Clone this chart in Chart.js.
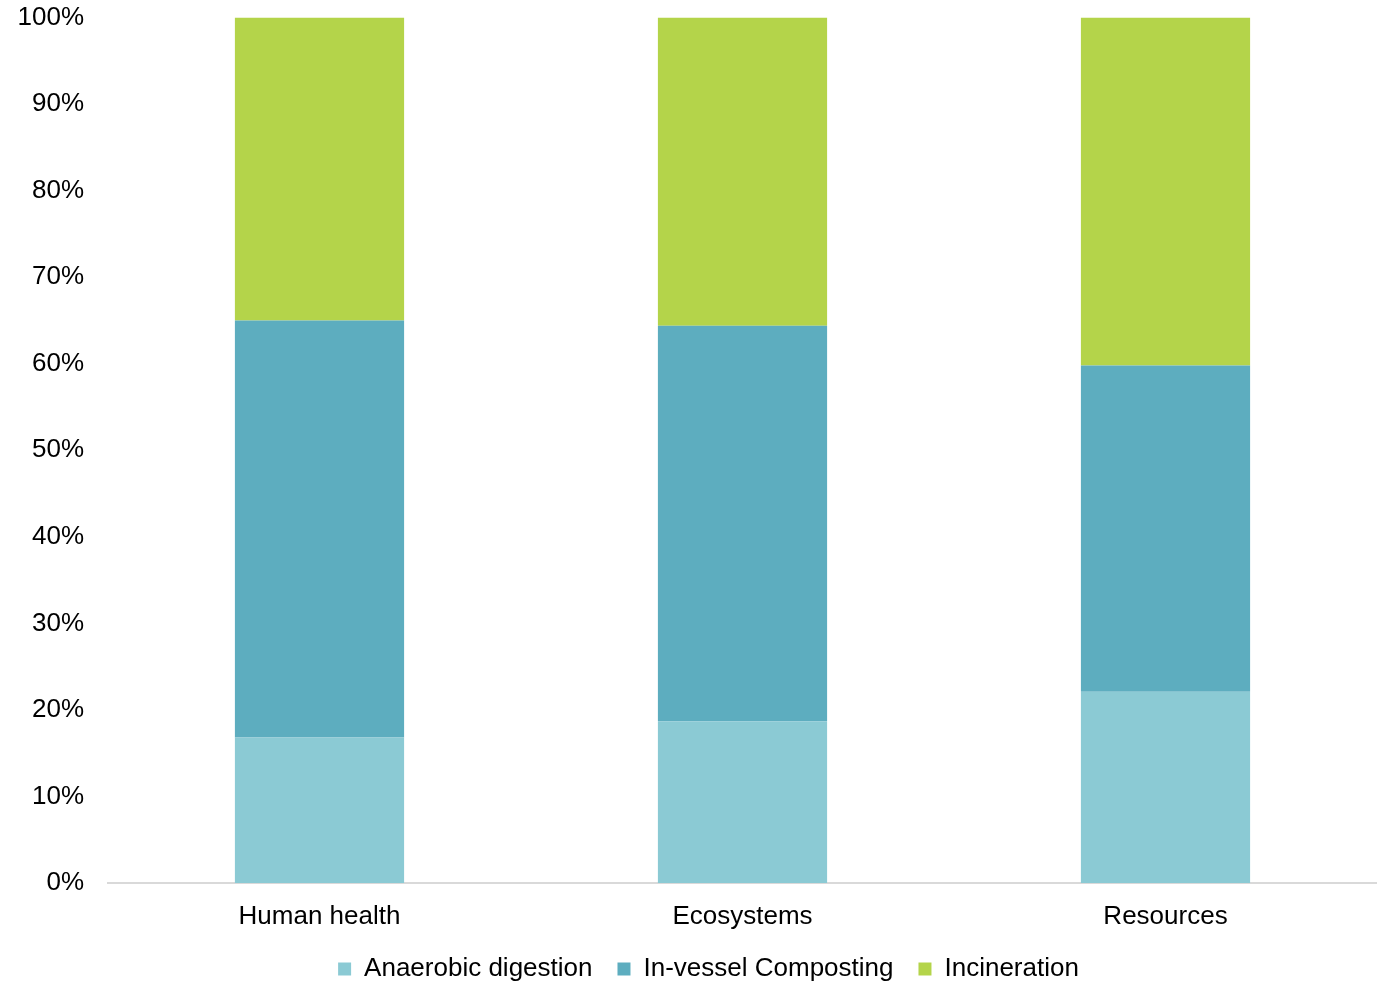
<!DOCTYPE html>
<html>
<head>
<meta charset="utf-8">
<script src="https://cdn.jsdelivr.net/npm/chart.js@4"></script>
<style>
  html, body { margin: 0; padding: 0; background: #fff; overflow: hidden; }
  #wrap { width: 1377px; height: 1014px; position: relative; top: -22px; }
</style>
</head>
<body>
<div id="wrap"><canvas id="c"></canvas></div>
<script>
const categories = ['Human health', 'Ecosystems', 'Resources'];
const anaerobicDigestion = [16.8, 18.7, 22.1];
const inVesselComposting = [48.2, 45.7, 37.7];
const incineration = [35.0, 35.6, 40.2];
const yTicks = [0, 10, 20, 30, 40, 50, 60, 70, 80, 90, 100];

const FONT = "'Liberation Sans', Arial, sans-serif";

const legendShift = {
  id: 'legendShift',
  afterLayout(chart) {
    if (chart.legend) { chart.legend.left += 20; chart.legend.right += 20; }
  }
};

new Chart(document.getElementById('c'), {
  type: 'bar',
  data: {
    labels: categories,
    datasets: [
      { label: 'Anaerobic digestion', data: anaerobicDigestion, backgroundColor: '#8BCAD4' },
      { label: 'In-vessel Composting', data: inVesselComposting, backgroundColor: '#5DADBF' },
      { label: 'Incineration', data: incineration, backgroundColor: '#B4D44A' }
    ]
  },
  plugins: [legendShift],
  options: {
    responsive: true,
    maintainAspectRatio: false,
    animation: false,
    layout: { padding: 0 },
    datasets: { bar: { categoryPercentage: 0.8, barPercentage: 0.5, borderWidth: 0 } },
    scales: {
      x: {
        stacked: true,
        grid: { display: false, drawTicks: false },
        border: { display: true, color: '#D9D9D9', width: 2 },
        ticks: { color: '#000', font: { family: FONT, size: 26 }, padding: 18, maxRotation: 0 },
        afterFit: (s) => { s.height = 48; }
      },
      y: {
        stacked: true,
        min: 0, max: 100,
        afterBuildTicks: (s) => { s.ticks = yTicks.map(v => ({ value: v })); },
        grid: { display: false, drawTicks: false },
        border: { display: false },
        ticks: { color: '#000', font: { family: FONT, size: 26 }, padding: 24, callback: (v) => v + '%' },
        afterFit: (s) => { s.width = 108; }
      }
    },
    plugins: {
      tooltip: { enabled: false },
      legend: {
        position: 'bottom',
        labels: { color: '#000', font: { family: FONT, size: 26 }, boxWidth: 13, boxHeight: 13, padding: 25 }
      }
    }
  }
});
</script>
</body>
</html>
